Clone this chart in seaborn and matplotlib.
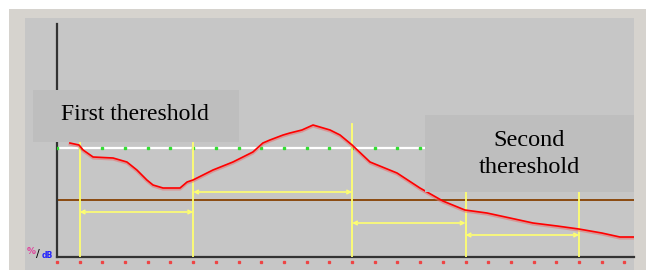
import matplotlib
matplotlib.use("Agg")
import matplotlib.pyplot as plt
from matplotlib.patches import Rectangle
import seaborn as sns
import pandas as pd

# ---- data ----
curve_x = [0.57, 0.97, 1.15, 1.59, 2.47, 3.08, 3.52, 3.96, 4.23, 4.67, 5.42, 5.73, 5.99,
           6.87, 7.75, 8.63, 9.07, 9.38, 9.96, 10.26, 10.79, 11.28, 12.03, 12.47, 13.0,
           13.79, 14.98, 15.99, 17.0, 17.97, 18.94, 19.96, 20.97, 22.03, 22.99, 24.0, 24.8, 25.42]
curve_y = [114, 112, 107, 100, 99, 95, 87, 77, 72, 69, 69, 75, 77,
           87, 95, 105, 114, 117, 122, 124, 127, 132, 127, 122, 112,
           95, 84, 69, 56, 47, 44, 39, 34, 31, 28, 24, 20, 20]
first_threshold = 109
second_threshold = 57
marker_x = [1, 6, 13, 18, 23]
marker_top = [114, 114, 133, 65, 65]
interval_start = [1, 6, 13, 18]
interval_end = [6, 13, 18, 23]
interval_y = [45, 65, 34, 22]
ticks = list(range(26))
labels = ["First thereshold", "Second\nthereshold"]

W, H = 651, 270
fig = plt.figure(figsize=(W / 100, H / 100), dpi=100)
fig.patch.set_facecolor("white")

def px_rect(x0, y0, x1, y1, color, z):
    r = Rectangle((x0 / W, 1 - y1 / H), (x1 - x0) / W, (y1 - y0) / H,
                  transform=fig.transFigure, facecolor=color, edgecolor="none", zorder=z)
    fig.add_artist(r)

px_rect(9, 9, 646, 270, "#d6d3ce", -10)
px_rect(25, 18, 634, 270, "#c6c6c6", -9)

ax = fig.add_axes([57 / W, (H - 257) / H, 577 / W, 233 / H])
ax.set_facecolor("none")
ax.set_xlim(0, 25.42)
ax.set_ylim(0, 233)
for s in ["top", "right"]:
    ax.spines[s].set_visible(False)
for s in ["left", "bottom"]:
    ax.spines[s].set_color("#333333")
    ax.spines[s].set_linewidth(1.6)
ax.set_xticks([])
ax.set_yticks([])

# threshold lines
ax.axhline(first_threshold, color="white", lw=1.6, zorder=2)
ax.plot(ticks, [first_threshold] * len(ticks), ls="none", marker="s", ms=1.6,
        color="#33dd33", zorder=3)
ax.axhline(second_threshold, color="#8b4a10", lw=1.4, zorder=2)

# tick dots below axis
ax.plot(ticks, [-5] * len(ticks), ls="none", marker="s", ms=1.4, color="#ee4444",
        clip_on=False, zorder=3)

# yellow markers
yel = "#ffff70"
for x, t in zip(marker_x, marker_top):
    ax.plot([x, x], [0, t], color=yel, lw=1.3, zorder=4)
for a, b, y in zip(interval_start, interval_end, interval_y):
    ax.annotate("", xy=(b, y), xytext=(a, y),
                arrowprops=dict(arrowstyle="<->", color=yel, lw=1.2,
                                mutation_scale=6, shrinkA=0, shrinkB=0), zorder=4)

# red curve
df = pd.DataFrame({"x": curve_x, "y": curve_y})
ax.plot(curve_x, [v - 1.2 for v in curve_y], color="#e87070", lw=2.0, alpha=0.55,
        zorder=5)
sns.lineplot(data=df, x="x", y="y", ax=ax, color="#ff0000", lw=1.2, sort=False,
             estimator=None, zorder=6)
ax.set_xlabel("")
ax.set_ylabel("")

# text boxes
px_rect(33, 90, 239, 142, "#bebebe", 10)
fig.text(135 / W, 1 - 115 / H, labels[0], ha="center", va="center",
         family="Liberation Serif", fontsize=17, zorder=11)
px_rect(425, 115, 634, 192, "#bebebe", 10)
fig.text(529 / W, 1 - 154 / H, labels[1], ha="center", va="center",
         family="Liberation Serif", fontsize=17.5, linespacing=1.4, zorder=11)

# unit icon
fig.text(27 / W, 1 - 252 / H, "%", color="#e0409a", fontsize=6.5, fontweight="bold",
         ha="left", va="center")
fig.text(36 / W, 1 - 254 / H, "/", color="black", fontsize=8, ha="left", va="center")
fig.text(42 / W, 1 - 256 / H, "dB", color="#2020ff", fontsize=5.5, fontweight="bold",
         ha="left", va="center")

fig.savefig("out.png", dpi=100, facecolor="white")
